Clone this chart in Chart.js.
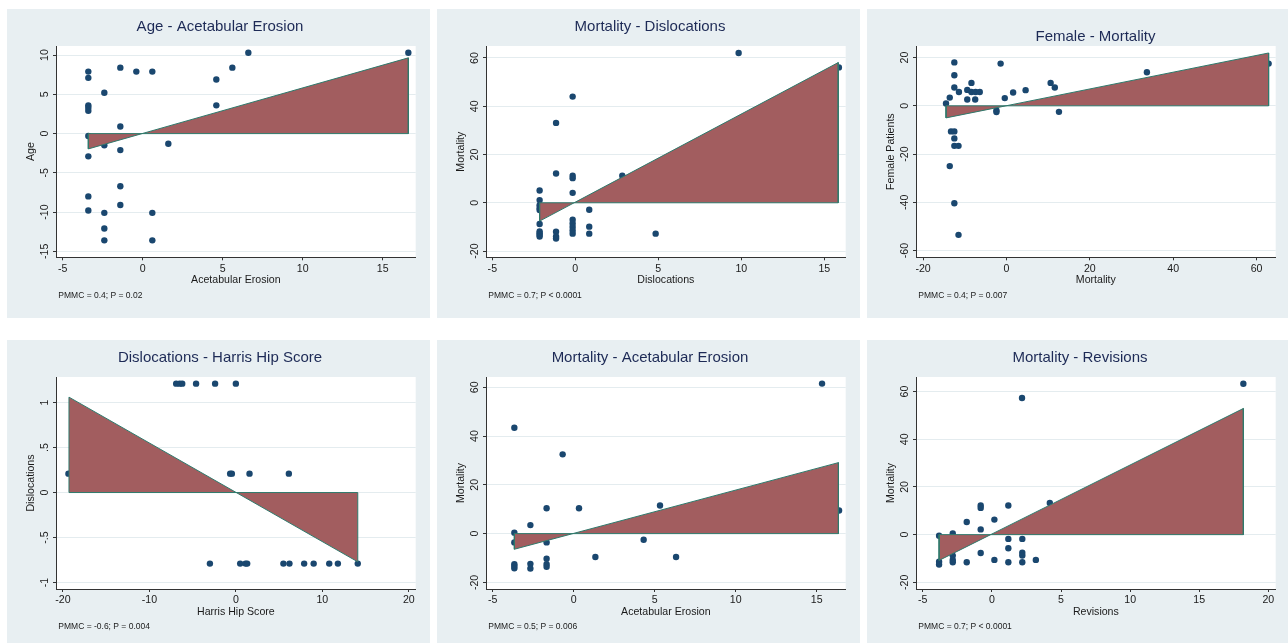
<!DOCTYPE html>
<html>
<head>
<meta charset="utf-8">
<script src="https://cdn.jsdelivr.net/npm/chart.js@4.4.1/dist/chart.umd.min.js"></script>
<style>
  body { margin: 0; background: #fff; }
  #wrap { position: relative; width: 1288px; height: 644px; overflow: hidden; }
  #wrap canvas { position: absolute; background: #e8eff2; }
</style>
</head>
<body>
<div id="wrap"></div>
<script>
// ---- data ----
const ageErosionX = [-3.4, -3.4, -2.4, -3.4, -3.4, -3.4, -1.4, -0.4, 0.6, 6.6, 5.6, 4.6, 4.6, 16.6, -1.4, -3.4, -2.4, -1.4, 1.6, -3.4, -1.4, -3.4, -1.4, -3.4, -2.4, 0.6, -2.4, -2.4, 0.6];
const ageErosionY = [7.9, 7.1, 5.2, 3.6, 3.3, 2.9, 8.4, 7.9, 7.9, 10.3, 8.4, 6.9, 3.6, 10.3, 0.9, -0.3, -1.5, -2.1, -1.3, -2.9, -6.7, -8.0, -9.1, -9.8, -10.1, -10.1, -12.1, -13.6, -13.6];
const ageErosionFitX = [-3.4, 16.6];
const ageErosionFitY = [-1.95, 9.65];

const mortDislocX = [-2.15, -2.15, -2.15, -2.15, -2.15, -2.15, -2.15, -2.15, -2.15, -2.15, -1.16, -1.16, -1.16, -1.16, -1.16, -0.16, -0.16, -0.16, -0.16, -0.16, -0.16, -0.16, -0.16, -0.16, 0.84, 0.84, 0.84, 2.83, 4.84, 9.84, 15.88];
const mortDislocY = [5.1, 1.1, -1.0, -2.2, -3.0, -8.8, -11.9, -12.6, -13.3, -14.0, 33.1, 12.1, -12.0, -14.0, -14.8, 44.0, 11.2, 10.2, 4.1, -7.0, -8.6, -10.0, -11.5, -12.8, -2.9, -9.9, -12.8, 11.2, -12.8, 62.1, 56.1];
const mortDislocFitX = [-2.15, 15.84];
const mortDislocFitY = [-7.6, 58.1];

const femaleMortX = [-14.5, -13.6, -12.5, -12.5, -12.5, -11.4, -9.4, -9.4, -8.4, -8.4, -7.4, -7.5, -6.4, -1.4, -2.4, -2.4, -0.4, 1.6, 4.6, 10.6, 11.6, 12.6, 33.7, 62.9, -13.3, -12.5, -12.5, -12.5, -11.5, -13.6, -12.5, -11.5];
const femaleMortY = [1.0, 3.4, 18.0, 12.7, 7.6, 5.7, 6.6, 2.6, 9.5, 5.7, 5.7, 2.6, 5.7, 17.5, -1.9, -2.6, 3.2, 5.5, 6.5, 9.5, 7.6, -2.5, 13.9, 17.5, -10.6, -10.6, -13.5, -16.6, -16.6, -25.0, -40.4, -53.5];
const femaleMortFitX = [-14.5, 62.9];
const femaleMortFitY = [-5.0, 21.9];

const dislocHarrisX = [-6.9, -6.5, -6.2, -4.6, -2.4, 0.0, -19.36, -0.66, -0.46, 1.58, 6.13, -3.0, 0.5, 1.12, 1.31, 5.5, 6.2, 7.9, 9.0, 10.8, 11.8, 14.1];
const dislocHarrisY = [1.21, 1.21, 1.21, 1.21, 1.21, 1.21, 0.21, 0.21, 0.21, 0.21, 0.21, -0.79, -0.79, -0.79, -0.79, -0.79, -0.79, -0.79, -0.79, -0.79, -0.79, -0.79];
const dislocHarrisFitX = [-19.3, 14.1];
const dislocHarrisFitY = [1.06, -0.77];

const mortErosionX = [15.33, -3.66, -0.68, -1.67, 0.33, 5.33, 16.38, -2.67, -3.66, -3.66, -1.67, 4.32, 1.34, 6.32, -1.67, -1.67, -1.67, -2.67, -2.67, -3.66, -3.66, -3.66];
const mortErosionY = [61.5, 43.4, 32.5, 10.4, 10.4, 11.5, 9.5, 3.5, 0.4, -3.6, -3.6, -2.5, -9.6, -9.6, -10.3, -12.5, -13.6, -12.4, -14.3, -12.5, -13.3, -14.2];
const mortErosionFitX = [-3.66, 16.34];
const mortErosionFitY = [-6.4, 29.1];

const mortRevisionsX = [18.19, 2.18, 4.19, -0.81, -0.81, 1.19, 0.18, -1.82, -0.81, -3.82, -2.83, 1.19, 2.2, 1.19, 2.2, 2.2, -0.81, -2.83, 0.18, 3.18, -2.83, -2.83, -1.82, 1.19, 2.2, -3.82, -3.82];
const mortRevisionsY = [63.3, 57.3, 13.3, 12.2, 11.2, 12.2, 6.3, 5.3, 2.2, -0.5, 0.5, -1.8, -1.8, -5.7, -7.6, -8.8, -7.7, -8.8, -10.6, -10.6, -10.6, -11.6, -11.6, -11.6, -11.6, -11.4, -12.5];
const mortRevisionsFitX = [-3.82, 18.19];
const mortRevisionsFitY = [-10.8, 52.9];

const ticksErosion = [-5, 0, 5, 10, 15];
const ticksRevisions = [-5, 0, 5, 10, 15, 20];
const ticksMortX = [-20, 0, 20, 40, 60];
const ticksHarris = [-20, -10, 0, 10, 20];
const ticksAge = [-15, -10, -5, 0, 5, 10];
const ticksMortY = [-20, 0, 20, 40, 60];
const ticksFemale = [-60, -40, -20, 0, 20];
const ticksDisloc = [-1, -0.5, 0, 0.5, 1];

const NAVY = '#1a476f';
const MAROON = '#a25d5f';
const TEAL = '#2f7a6c';
const AXIS = '#333333';
const GRID = '#e4ecef';
const INK = '#1a1a1a';
const TITLE_INK = '#1d2a56';
const FONT = "'Liberation Sans', Arial, Helvetica, sans-serif";

// stata style labels: -.5, .5
const fmt = v => String(v).replace(/^(-?)0\./, '$1.');

const panels = [
  { title: 'Age - Acetabular Erosion', xLabel: 'Acetabular Erosion', yLabel: 'Age', note: 'PMMC = 0.4; P = 0.02',
    xs: ageErosionX, ys: ageErosionY, fitX: ageErosionFitX, fitY: ageErosionFitY,
    xr: [-5.42, 17.06], yr: [-15.76, 11.16], xTicks: ticksErosion, yTicks: ticksAge,
    box: [7, 9, 423, 309], plotBottom: 248.3, titleX: 213, titleBase: 21.7 },
  { title: 'Mortality - Dislocations', xLabel: 'Dislocations', yLabel: 'Mortality', note: 'PMMC = 0.7; P < 0.0001',
    xs: mortDislocX, ys: mortDislocY, fitX: mortDislocFitX, fitY: mortDislocFitY,
    xr: [-5.38, 16.29], yr: [-22.6, 64.97], xTicks: ticksErosion, yTicks: ticksMortY,
    box: [437, 9, 423, 309], plotBottom: 248.3, titleX: 213, titleBase: 21.7 },
  { title: 'Female - Mortality', xLabel: 'Mortality', yLabel: 'Female Patients', note: 'PMMC = 0.4; P = 0.007',
    xs: femaleMortX, ys: femaleMortY, fitX: femaleMortFitX, fitY: femaleMortFitY,
    xr: [-21.7, 64.6], yr: [-62.8, 24.8], xTicks: ticksMortX, yTicks: ticksFemale,
    box: [867, 9, 421, 309], plotBottom: 248.3, titleX: 228.5, titleBase: 32 },
  { title: 'Dislocations - Harris Hip Score', xLabel: 'Harris Hip Score', yLabel: 'Dislocations', note: 'PMMC = -0.6; P = 0.004',
    xs: dislocHarrisX, ys: dislocHarrisY, fitX: dislocHarrisFitX, fitY: dislocHarrisFitY,
    xr: [-20.8, 20.8], yr: [-1.072, 1.284], xTicks: ticksHarris, yTicks: ticksDisloc,
    box: [7, 340, 423, 303], plotBottom: 249, titleX: 213, titleBase: 21.7 },
  { title: 'Mortality - Acetabular Erosion', xLabel: 'Acetabular Erosion', yLabel: 'Mortality', note: 'PMMC = 0.5; P = 0.006',
    xs: mortErosionX, ys: mortErosionY, fitX: mortErosionFitX, fitY: mortErosionFitY,
    xr: [-5.41, 16.79], yr: [-22.7, 64.2], xTicks: ticksErosion, yTicks: ticksMortY,
    box: [437, 340, 423, 303], plotBottom: 249, titleX: 213, titleBase: 21.7 },
  { title: 'Mortality - Revisions', xLabel: 'Revisions', yLabel: 'Mortality', note: 'PMMC = 0.7; P < 0.0001',
    xs: mortRevisionsX, ys: mortRevisionsY, fitX: mortRevisionsFitX, fitY: mortRevisionsFitY,
    xr: [-5.49, 20.53], yr: [-22.8, 66.1], xTicks: ticksRevisions, yTicks: ticksMortY,
    box: [867, 340, 421, 303], plotBottom: 249, titleX: 213, titleBase: 21.7 },
];

const PLOT_LEFT = 49, PLOT_RIGHT = 408.7, PLOT_TOP = 37, XAXIS_H = 29.5;

function stataText(p) {
  return {
    id: 'stataText',
    beforeDraw(chart) {
      const {ctx, chartArea: a} = chart;
      ctx.save();
      ctx.fillStyle = '#ffffff';
      ctx.fillRect(a.left, a.top, a.right - a.left, a.bottom - a.top);
      ctx.restore();
    },
    afterDraw(chart) {
      const ctx = chart.ctx;
      const ys = chart.scales.y;
      ctx.save();
      ctx.fillStyle = TITLE_INK;
      ctx.font = '15px ' + FONT;
      ctx.textAlign = 'center';
      ctx.textBaseline = 'alphabetic';
      ctx.fillText(p.title, p.titleX, p.titleBase);

      ctx.fillStyle = INK;
      ctx.font = '10.6px ' + FONT;
      ys.ticks.forEach(t => {
        const py = ys.getPixelForValue(t.value);
        ctx.save();
        ctx.translate(40.5, py);
        ctx.rotate(-Math.PI / 2);
        ctx.fillText(fmt(t.value), 0, 0);
        ctx.restore();
      });

      ctx.textAlign = 'left';
      ctx.font = '8.5px ' + FONT;
      ctx.fillText(p.note, 51.3, 288.7);
      ctx.restore();
    }
  };
}

const wrap = document.getElementById('wrap');

panels.forEach(p => {
  const cv = document.createElement('canvas');
  cv.width = p.box[2];
  cv.height = p.box[3];
  cv.style.left = p.box[0] + 'px';
  cv.style.top = p.box[1] + 'px';
  cv.style.width = p.box[2] + 'px';
  cv.style.height = p.box[3] + 'px';
  wrap.appendChild(cv);

  const points = p.xs.map((x, i) => ({x: x, y: p.ys[i]}));
  const shape = [
    {x: p.fitX[0], y: 0},
    {x: p.fitX[0], y: p.fitY[0]},
    {x: p.fitX[1], y: p.fitY[1]},
    {x: p.fitX[1], y: 0},
    {x: p.fitX[0], y: 0},
  ];

  new Chart(cv, {
    type: 'scatter',
    data: {
      datasets: [
        { data: points, backgroundColor: NAVY, borderWidth: 0, pointRadius: 3.2, order: 2 },
        { type: 'line', data: shape, fill: 'shape', backgroundColor: MAROON, borderColor: TEAL,
          borderWidth: 1, pointRadius: 0, tension: 0, order: 1 },
      ]
    },
    options: {
      responsive: false,
      animation: false,
      events: [],
      layout: { padding: { left: 0, top: PLOT_TOP, right: p.box[2] - PLOT_RIGHT, bottom: p.box[3] - p.plotBottom - XAXIS_H } },
      plugins: { legend: { display: false }, tooltip: { enabled: false } },
      scales: {
        x: {
          type: 'linear', min: p.xr[0], max: p.xr[1],
          afterBuildTicks: s => { s.ticks = p.xTicks.map(v => ({value: v})); },
          afterFit: s => { s.height = XAXIS_H; },
          grid: { drawOnChartArea: false, drawTicks: true, tickLength: 3, tickColor: AXIS, tickWidth: 1 },
          border: { display: true, color: AXIS, width: 1 },
          ticks: { padding: 2, color: INK, font: { family: FONT, size: 10.6 }, autoSkip: false, maxRotation: 0,
                   callback: v => fmt(v) },
          title: { display: true, text: p.xLabel, color: INK, padding: 0, font: { family: FONT, size: 10.6 } }
        },
        y: {
          type: 'linear', min: p.yr[0], max: p.yr[1],
          afterBuildTicks: s => { s.ticks = p.yTicks.map(v => ({value: v})); },
          afterFit: s => { s.width = PLOT_LEFT; },
          grid: { color: GRID, lineWidth: 1, drawTicks: true, tickLength: 3, tickColor: AXIS, tickWidth: 1 },
          border: { display: true, color: AXIS, width: 1 },
          ticks: { display: false },
          title: { display: true, text: p.yLabel, color: INK, padding: { top: 18.2, bottom: 0 },
                   font: { family: FONT, size: 10.6 } }
        }
      }
    },
    plugins: [stataText(p)]
  });
});
</script>
</body>
</html>
